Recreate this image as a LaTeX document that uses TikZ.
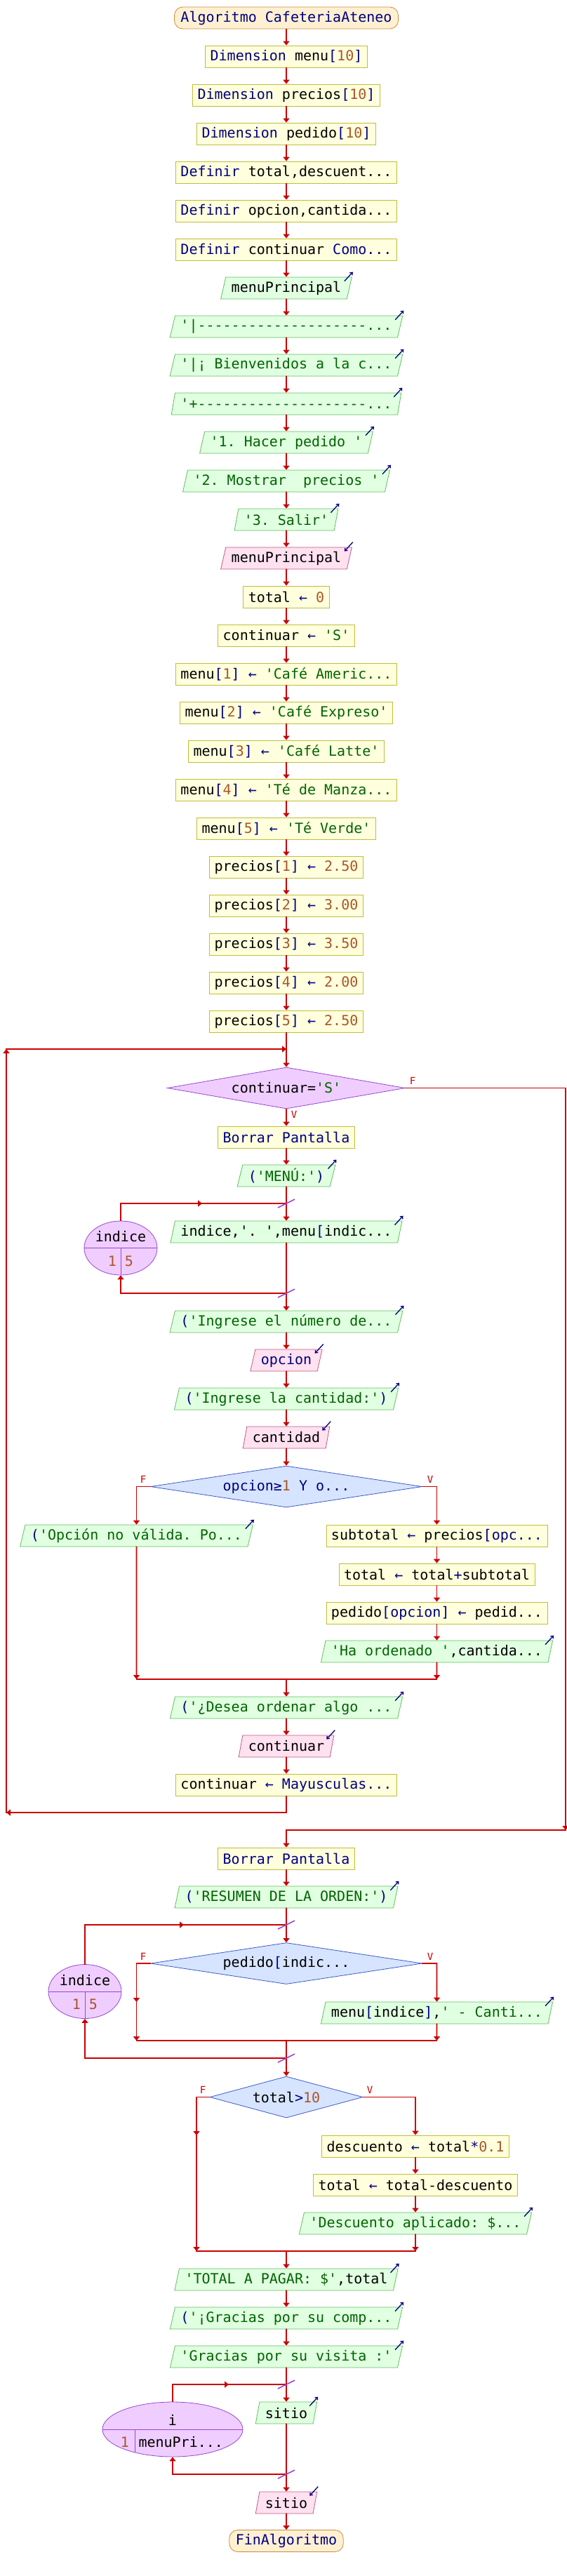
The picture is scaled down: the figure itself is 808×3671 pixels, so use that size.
\documentclass[tikz,border=0pt]{standalone}
\usepackage{fontspec}
\setmonofont{DejaVu Sans Mono}
\usetikzlibrary{shapes.geometric,arrows.meta}

\definecolor{rojo}{RGB}{204,0,0}
\definecolor{azul}{RGB}{0,0,128}
\definecolor{cafe}{RGB}{170,85,40}
\definecolor{verde}{RGB}{0,100,0}
\definecolor{procfondo}{RGB}{255,255,221}
\definecolor{procborde}{RGB}{190,190,60}
\definecolor{salfondo}{RGB}{225,255,225}
\definecolor{salborde}{RGB}{95,190,95}
\definecolor{entfondo}{RGB}{255,225,240}
\definecolor{entborde}{RGB}{190,90,130}
\definecolor{ciclofondo}{RGB}{240,205,255}
\definecolor{cicloborde}{RGB}{150,70,210}
\definecolor{sifondo}{RGB}{215,228,255}
\definecolor{siborde}{RGB}{60,90,200}
\definecolor{extfondo}{RGB}{255,240,210}
\definecolor{extborde}{RGB}{205,140,60}

\newcommand{\clave}[1]{\textcolor{azul}{#1}}
\newcommand{\numero}[1]{\textcolor{cafe}{#1}}
\newcommand{\cadena}[1]{\textcolor{verde}{#1}}
\newcommand{\asigna}{\textcolor{azul}{←}}
\newcommand{\ab}{\textcolor{azul}{[}}
\newcommand{\cb}{\textcolor{azul}{]}}

\tikzset{
  linea/.style={draw=rojo, line width=1.6pt, line cap=rect},
  flecha/.style={linea, -{Triangle[length=6pt,width=9pt]}},
  proceso/.style={rectangle, draw=procborde, fill=procfondo, line width=0.8pt,
    minimum height=31pt, inner xsep=7pt, inner ysep=0pt},
  salida/.style={trapezium, trapezium left angle=70, trapezium right angle=110,
    trapezium stretches body, draw=salborde, fill=salfondo, line width=0.8pt,
    minimum height=31pt, inner xsep=8pt, inner ysep=0pt},
  entrada/.style={salida, draw=entborde, fill=entfondo},
  extremo/.style={rectangle, rounded corners=12pt, draw=extborde, fill=extfondo,
    line width=0.8pt, minimum height=31pt, inner xsep=9pt, inner ysep=0pt},
  mientras/.style={diamond, draw=cicloborde, fill=ciclofondo, line width=0.8pt,
    inner sep=0pt, minimum height=59pt, aspect=5},
  decision/.style={diamond, draw=siborde, fill=sifondo, line width=0.8pt,
    inner sep=0pt, minimum height=59pt, aspect=5},
  ciclo/.style={ellipse, draw=cicloborde, fill=ciclofondo, line width=0.8pt, inner sep=0pt},
  barra/.style={draw=cicloborde, line width=1.6pt},
  icono/.style={draw=azul, line width=1.3pt, -{Straight Barb[length=3pt,width=5pt]}},
  etiqueta/.style={text=rojo, font=\ttfamily\fontsize{14}{14}\selectfont, inner sep=0pt},
}

\begin{document}
\begin{tikzpicture}[x=1pt, y=-1pt, font=\ttfamily\fontsize{20}{24}\selectfont]
\fill[white] (0,0) rectangle (808,3671);
\useasboundingbox (0,0) rectangle (808,3671);

% inicio y definiciones
\node[extremo] (inicio) at (408,25.5) {\clave{Algoritmo CafeteriaAteneo}};
\node[proceso] (dimMenu) at (408,80.5) {\clave{Dimension} menu\ab\numero{10}\cb};
\node[proceso] (dimPrecios) at (408,135.5) {\clave{Dimension} precios\ab\numero{10}\cb};
\node[proceso] (dimPedido) at (408,190.5) {\clave{Dimension} pedido\ab\numero{10}\cb};
\node[proceso] (defTotal) at (408,245.5) {\clave{Definir} total,descuent...};
\node[proceso] (defOpcion) at (408,300.5) {\clave{Definir} opcion,cantida...};
\node[proceso] (defContinuar) at (408,355.5) {\clave{Definir} continuar \clave{Como...}};

% menu principal
\node[salida] (escMenu) at (408,410.5) {menuPrincipal};
\node[salida] (escLinea1) at (408,465.5) {\cadena{'|--------------------...}};
\node[salida] (escBienv) at (408,520.5) {\cadena{'|¡ Bienvenidos a la c...}};
\node[salida] (escLinea2) at (408,575.5) {\cadena{'+--------------------...}};
\node[salida] (escOp1) at (408,630.5) {\cadena{'1. Hacer pedido '}};
\node[salida] (escOp2) at (408,685.5) {\cadena{'2. Mostrar\ \ precios '}};
\node[salida] (escOp3) at (408,740.5) {\cadena{'3. Salir'}};
\node[entrada] (leerMenu) at (408,795.5) {menuPrincipal};
\node[proceso] (asTotal) at (408,850.5) {total \asigna{} \numero{0}};
\node[proceso] (asCont) at (408,905.5) {continuar \asigna{} \cadena{'S'}};

% carta
\node[proceso] (asMenu1) at (408,960.5) {menu\ab\numero{1}\cb{} \asigna{} \cadena{'Café Americ...}};
\node[proceso] (asMenu2) at (408,1015.5) {menu\ab\numero{2}\cb{} \asigna{} \cadena{'Café Expreso'}};
\node[proceso] (asMenu3) at (408,1070.5) {menu\ab\numero{3}\cb{} \asigna{} \cadena{'Café Latte'}};
\node[proceso] (asMenu4) at (408,1125.5) {menu\ab\numero{4}\cb{} \asigna{} \cadena{'Té de Manza...}};
\node[proceso] (asMenu5) at (408,1180.5) {menu\ab\numero{5}\cb{} \asigna{} \cadena{'Té Verde'}};
\node[proceso] (asPrecio1) at (408,1235.5) {precios\ab\numero{1}\cb{} \asigna{} \numero{2.50}};
\node[proceso] (asPrecio2) at (408,1290.5) {precios\ab\numero{2}\cb{} \asigna{} \numero{3.00}};
\node[proceso] (asPrecio3) at (408,1345.5) {precios\ab\numero{3}\cb{} \asigna{} \numero{3.50}};
\node[proceso] (asPrecio4) at (408,1400.5) {precios\ab\numero{4}\cb{} \asigna{} \numero{2.00}};
\node[proceso] (asPrecio5) at (408,1455.5) {precios\ab\numero{5}\cb{} \asigna{} \numero{2.50}};

% bucle mientras
\node[mientras, minimum width=339pt] (mientras) at (408,1550.5) {continuar=\cadena{'S'}};
\node[etiqueta] (fMientras) at (588,1540) {F};
\node[etiqueta] (vMientras) at (419,1588) {V};
\node[proceso] (borrar1) at (408,1620.5) {\clave{Borrar Pantalla}};
\node[salida] (escMenuT) at (408,1675.5) {\clave{(}\cadena{'MENÚ:'}\clave{)}};
\node[salida] (escIndice) at (408,1755.5) {indice,'. ',menu\ab{}indic...};
\node[ciclo, minimum width=104pt, minimum height=77pt] (ciclo1) at (172,1778.5) {};
\draw[cicloborde, line width=0.8pt] (ciclo1.west) -- (ciclo1.east) (ciclo1.center) -- (ciclo1.south);
\node (var1) at (172,1762) {indice};
\node (ini1) at (160,1797) {\numero{1}};
\node (fin1) at (184,1797) {\numero{5}};
\node[salida] (escNum) at (408,1883.5) {\clave{(}\cadena{'Ingrese el número de...}};
\node[entrada] (leerOpcion) at (408,1938.5) {\clave{opcion}};
\node[salida] (escCant) at (408,1993.5) {\clave{(}\cadena{'Ingrese la cantidad:'}\clave{)}};
\node[entrada] (leerCant) at (408,2048.5) {cantidad};

% validar opcion
\node[decision, minimum width=387pt] (si1) at (408,2118.5) {\clave{opcion≥}\numero{1} \clave{Y o...}};
\node[etiqueta] (fSi1) at (204,2108) {F};
\node[etiqueta] (vSi1) at (613,2108) {V};
\node[salida] (escInvalida) at (194.5,2188.5) {\clave{(}\cadena{'Opción no válida. Po...}};
\node[proceso] (asSubtotal) at (622.5,2188.5) {subtotal \asigna{} precios\ab\clave{opc...}};
\node[proceso] (asTotal2) at (622.5,2243.5) {total \asigna{} total\clave{+}subtotal};
\node[proceso] (asPedido) at (622.5,2298.5) {pedido\ab\clave{opcion}\cb{} \asigna{} pedid...};
\node[salida] (escOrdenado) at (622.5,2353.5) {\cadena{'Ha ordenado '},cantida...};
\node[salida] (escDesea) at (408,2433.5) {\clave{(}\cadena{'¿Desea ordenar algo ...}};
\node[entrada] (leerCont) at (408,2488.5) {continuar};
\node[proceso] (asMayus) at (408,2543.5) {continuar \asigna{} \clave{Mayusculas...}};

% resumen
\node[proceso] (borrar2) at (408,2648.5) {\clave{Borrar Pantalla}};
\node[salida] (escResumen) at (408,2703.5) {\clave{(}\cadena{'RESUMEN DE LA ORDEN:'}\clave{)}};
\node[decision, minimum width=387pt] (si2) at (408,2798) {pedido\ab{}indic...};
\node[etiqueta] (fSi2) at (204,2788) {F};
\node[etiqueta] (vSi2) at (613,2788) {V};
\node[salida] (escLista) at (622.5,2868.5) {menu\ab{}indice\cb,\cadena{' - Canti...}};
\node[ciclo, minimum width=104pt, minimum height=77pt] (ciclo2) at (121,2838) {};
\draw[cicloborde, line width=0.8pt] (ciclo2.west) -- (ciclo2.east) (ciclo2.center) -- (ciclo2.south);
\node (var2) at (121,2822) {indice};
\node (ini2) at (109,2856) {\numero{1}};
\node (fin2) at (133,2856) {\numero{5}};

% descuento
\node[decision, minimum width=218pt] (si3) at (408,2988.5) {total\clave{>}\numero{10}};
\node[etiqueta] (fSi3) at (289,2978) {F};
\node[etiqueta] (vSi3) at (527,2978) {V};
\node[proceso] (asDesc) at (592,3058.5) {descuento \asigna{} total\clave{*}\numero{0.1}};
\node[proceso] (asTotal3) at (592,3113.5) {total \asigna{} total-descuento};
\node[salida] (escDesc) at (592,3168.5) {\cadena{'Descuento aplicado: \$...}};

% cierre
\node[salida] (escPagar) at (408,3248.5) {\cadena{'TOTAL A PAGAR: \$'},total};
\node[salida] (escGracias1) at (408,3303.5) {\clave{(}\cadena{'¡Gracias por su comp...}};
\node[salida] (escGracias2) at (408,3358.5) {\cadena{'Gracias por su visita :'}};
\node[salida] (escSitio) at (408,3438.5) {sitio};
\node[ciclo, minimum width=200pt, minimum height=78pt] (ciclo3) at (246,3462) {};
\draw[cicloborde, line width=0.8pt] (ciclo3.west) -- (ciclo3.east) (192,3462) -- (192,3495);
\node (var3) at (246,3449) {i};
\node (ini3) at (178,3480) {\numero{1}};
\node[anchor=west] (fin3) at (194,3480) {menuPri...};
\node[entrada] (leerSitio) at (408,3566.5) {sitio};
\node[extremo] (fin) at (408,3621) {\clave{FinAlgoritmo}};

% puntos de los bucles
\coordinate (wIn) at (408,1495);
\coordinate (rA) at (408,2583);
\coordinate (rB) at (9,2583);
\coordinate (rC) at (9,1495);
\coordinate (eA) at (806,1550.5);
\coordinate (eB) at (806,2608);
\coordinate (eC) at (408,2608);
\coordinate (f1a) at (172,1715);
\coordinate (f1m) at (288,1715);
\coordinate (f1b) at (408,1715);
\coordinate (f1c) at (408,1843);
\coordinate (f1d) at (172,1843);
\coordinate (s1L) at (194.5,2118.5);
\coordinate (s1R) at (622.5,2118.5);
\coordinate (s1JL) at (194.5,2393);
\coordinate (s1JR) at (622.5,2393);
\coordinate (s1J) at (408,2393);
\coordinate (f2a) at (121,2743);
\coordinate (f2m) at (262,2743);
\coordinate (f2b) at (408,2743);
\coordinate (f2c) at (408,2933);
\coordinate (f2d) at (121,2933);
\coordinate (s2L) at (194.5,2798);
\coordinate (s2Lm) at (194.5,2853);
\coordinate (s2JL) at (194.5,2908);
\coordinate (s2R) at (622.5,2798);
\coordinate (s2JR) at (622.5,2908);
\coordinate (s2J) at (408,2908);
\coordinate (s3L) at (280,2988.5);
\coordinate (s3Lm) at (280,3043);
\coordinate (s3JL) at (280,3208);
\coordinate (s3R) at (592,2988.5);
\coordinate (s3JR) at (592,3208);
\coordinate (s3J) at (408,3208);
\coordinate (f3a) at (246,3398);
\coordinate (f3m) at (326,3398);
\coordinate (f3b) at (408,3398);
\coordinate (f3c) at (408,3526);
\coordinate (f3d) at (246,3526);

% flujo principal
\foreach \a/\b in {inicio/dimMenu, dimMenu/dimPrecios, dimPrecios/dimPedido,
    dimPedido/defTotal, defTotal/defOpcion, defOpcion/defContinuar,
    defContinuar/escMenu, escMenu/escLinea1, escLinea1/escBienv,
    escBienv/escLinea2, escLinea2/escOp1, escOp1/escOp2, escOp2/escOp3,
    escOp3/leerMenu, leerMenu/asTotal, asTotal/asCont, asCont/asMenu1,
    asMenu1/asMenu2, asMenu2/asMenu3, asMenu3/asMenu4, asMenu4/asMenu5,
    asMenu5/asPrecio1, asPrecio1/asPrecio2, asPrecio2/asPrecio3,
    asPrecio3/asPrecio4, asPrecio4/asPrecio5, asPrecio5/mientras,
    mientras/borrar1, borrar1/escMenuT, escMenuT/escIndice, escIndice/escNum,
    escNum/leerOpcion, leerOpcion/escCant, escCant/leerCant, leerCant/si1,
    asSubtotal/asTotal2, asTotal2/asPedido, asPedido/escOrdenado,
    s1J/escDesea, escDesea/leerCont, leerCont/asMayus, eC/borrar2,
    borrar2/escResumen, escResumen/si2, s2J/si3, asDesc/asTotal3,
    asTotal3/escDesc, s3J/escPagar, escPagar/escGracias1,
    escGracias1/escGracias2, escGracias2/escSitio, escSitio/leerSitio,
    leerSitio/fin}
  \draw[flecha] (\a) -- (\b);

% mientras: vuelta y salida
\draw[linea] (asMayus) -- (rA);
\draw[flecha] (rA) -- (rB);
\draw[flecha] (rB) -- (rC);
\draw[flecha] (rC) -- (wIn);
\draw[linea] (mientras.east) -- (eA);
\draw[flecha] (eA) -- (eB);
\draw[linea] (eB) -- (eC);

% para indice (carta)
\draw[linea] (ciclo1) -- (f1a);
\draw[flecha] (f1a) -- (f1m);
\draw[linea] (f1m) -- (f1b);
\draw[linea] (f1c) -- (f1d);
\draw[flecha] (f1d) -- (ciclo1);

% si opcion valida
\draw[linea] (si1.west) -- (s1L);
\draw[flecha] (s1L) -- (escInvalida);
\draw[linea] (si1.east) -- (s1R);
\draw[flecha] (s1R) -- (asSubtotal);
\draw[flecha] (escInvalida) -- (s1JL);
\draw[flecha] (escOrdenado) -- (s1JR);
\draw[linea] (s1JL) -- (s1JR);

% para indice (resumen)
\draw[linea] (ciclo2) -- (f2a);
\draw[flecha] (f2a) -- (f2m);
\draw[linea] (f2m) -- (f2b);
\draw[linea] (si2.west) -- (s2L);
\draw[flecha] (s2L) -- (s2Lm);
\draw[flecha] (s2Lm) -- (s2JL);
\draw[linea] (si2.east) -- (s2R);
\draw[flecha] (s2R) -- (escLista);
\draw[flecha] (escLista) -- (s2JR);
\draw[linea] (s2JL) -- (s2JR);
\draw[linea] (f2c) -- (f2d);
\draw[flecha] (f2d) -- (ciclo2);

% si total>10
\draw[linea] (si3.west) -- (s3L);
\draw[flecha] (s3L) -- (s3Lm);
\draw[flecha] (s3Lm) -- (s3JL);
\draw[linea] (si3.east) -- (s3R);
\draw[flecha] (s3R) -- (asDesc);
\draw[flecha] (escDesc) -- (s3JR);
\draw[linea] (s3JL) -- (s3JR);

% para i
\draw[linea] (ciclo3) -- (f3a);
\draw[flecha] (f3a) -- (f3m);
\draw[linea] (f3m) -- (f3b);
\draw[linea] (f3c) -- (f3d);
\draw[flecha] (f3d) -- (ciclo3);

% marcas de los bucles para
\foreach \c in {f1b,f1c,f2b,f2c,f3b,f3c}
  \draw[barra] ([shift={(-12,6)}]\c) -- ([shift={(12,-6)}]\c);

% iconos de escribir y leer
\foreach \n in {escMenu, escLinea1, escBienv, escLinea2, escOp1, escOp2, escOp3,
    escMenuT, escIndice, escNum, escCant, escInvalida, escOrdenado, escDesea,
    escResumen, escLista, escDesc, escPagar, escGracias1, escGracias2, escSitio}
  \draw[icono] ([shift={(-11,6)}]\n.top right corner) -- ([shift={(1,-7)}]\n.top right corner);
\foreach \n in {leerMenu, leerOpcion, leerCant, leerCont, leerSitio}
  \draw[icono] ([shift={(1,-7)}]\n.top right corner) -- ([shift={(-11,6)}]\n.top right corner);

\end{tikzpicture}
\end{document}
